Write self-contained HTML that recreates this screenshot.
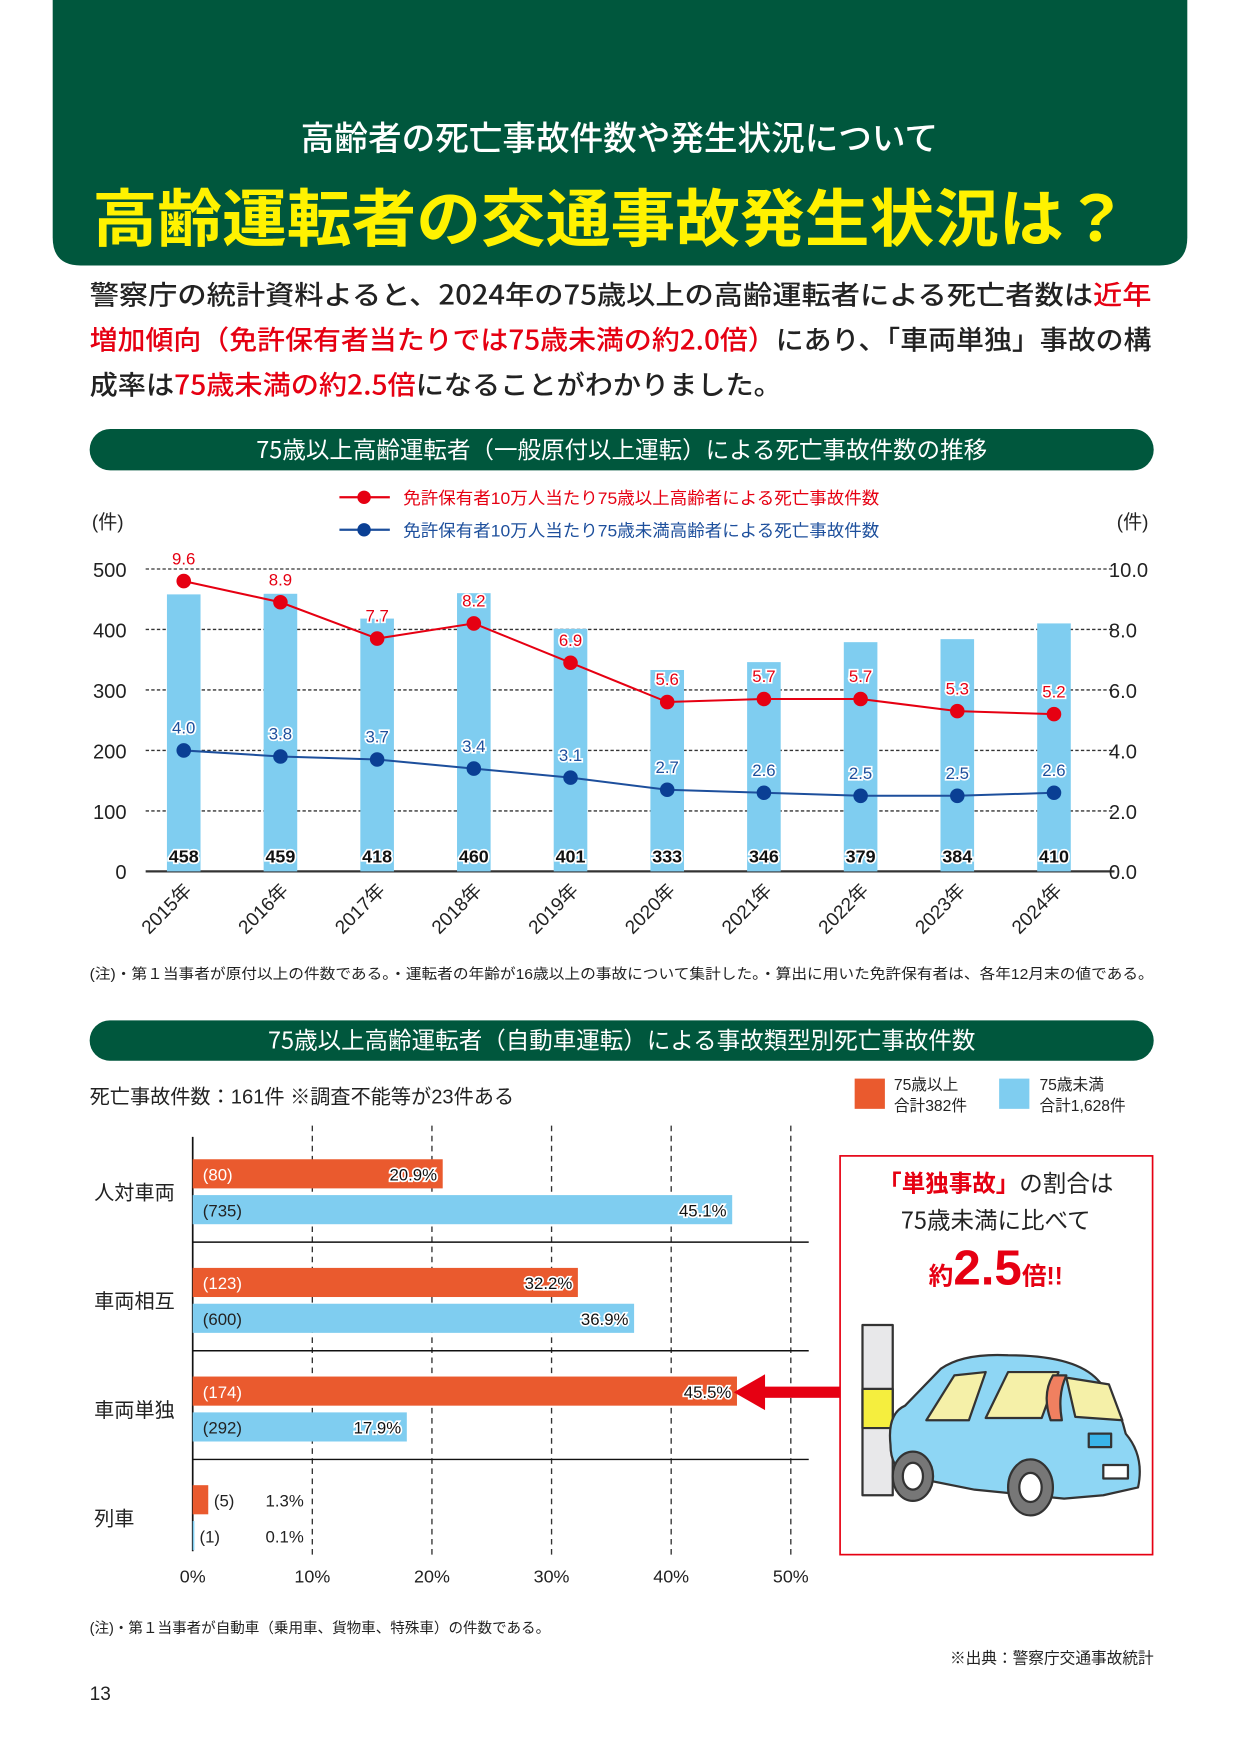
<!DOCTYPE html>
<html><head><meta charset="utf-8"><style>
html,body{margin:0;padding:0;background:#fff;}
svg{display:block;font-family:"Liberation Sans","Noto Sans CJK JP",sans-serif;}
</style></head><body>
<svg id="page" width="1240" height="1754" viewBox="0 0 1107 1566" xmlns="http://www.w3.org/2000/svg">
<path d="M47 0H1060V212Q1060 237 1035 237H72Q47 237 47 212Z" fill="#00573d"/>
<text x="553" y="134" text-anchor="middle" fill="#fff" font-size="30" font-weight="500" font-family="Noto Sans CJK JP, sans-serif">高齢者の死亡事故件数や発生状況について</text>
<text x="545" y="215" text-anchor="middle" fill="#fff200" font-size="56" font-weight="bold" font-family="Noto Sans CJK JP, sans-serif" textLength="925" lengthAdjust="spacingAndGlyphs">高齢運転者の交通事故発生状況は？</text>
<g font-size="24" font-weight="500" fill="#222" font-family="Noto Sans CJK JP, sans-serif">
<text x="80" y="272" textLength="948" lengthAdjust="spacingAndGlyphs">警察庁の統計資料よると、2024年の75歳以上の高齢運転者による死亡者数は<tspan fill="#e60012">近年</tspan></text>
<text x="80" y="312" textLength="948" lengthAdjust="spacingAndGlyphs"><tspan fill="#e60012">増加傾向（免許保有者当たりでは75歳未満の約2.0倍）</tspan>にあり、「車両単独」事故の構</text>
<text x="80" y="352" textLength="618" lengthAdjust="spacingAndGlyphs">成率は<tspan fill="#e60012">75歳未満の約2.5倍</tspan>になることがわかりました。</text>
</g>
<rect x="80" y="383" width="950" height="37" rx="18.5" fill="#00573d"/>
<text x="555" y="409" text-anchor="middle" fill="#fff" font-size="21" font-family="Noto Sans CJK JP, sans-serif">75歳以上高齢運転者（一般原付以上運転）による死亡事故件数の推移</text>
<g>
<line x1="303" y1="444" x2="348" y2="444" stroke="#e60012" stroke-width="2"/><circle cx="325" cy="444" r="6" fill="#e60012"/>
<text x="360" y="450" font-size="15" fill="#e60012" textLength="425" lengthAdjust="spacingAndGlyphs">免許保有者10万人当たり75歳以上高齢者による死亡事故件数</text></g>
<g>
<line x1="303" y1="473" x2="348" y2="473" stroke="#1d4f9c" stroke-width="2"/><circle cx="325" cy="473" r="6" fill="#0a3f94"/>
<text x="360" y="479" font-size="15" fill="#1d4f9c" textLength="425" lengthAdjust="spacingAndGlyphs">免許保有者10万人当たり75歳未満高齢者による死亡事故件数</text></g>
<text x="82" y="472" font-size="17" fill="#222">(件)</text>
<text x="997" y="472" font-size="17" fill="#222">(件)</text>
<g id="chart1"></g>
<text x="80" y="874" font-size="13" fill="#222" textLength="950" lengthAdjust="spacingAndGlyphs">(注)・第１当事者が原付以上の件数である。・運転者の年齢が16歳以上の事故について集計した。・算出に用いた免許保有者は、各年12月末の値である。</text>
<rect x="80" y="911" width="950" height="36" rx="18" fill="#00573d"/>
<text x="555" y="936" text-anchor="middle" fill="#fff" font-size="21" font-family="Noto Sans CJK JP, sans-serif">75歳以上高齢運転者（自動車運転）による事故類型別死亡事故件数</text>
<text x="80" y="985" font-size="18" fill="#222">死亡事故件数：161件 ※調査不能等が23件ある</text>
<g><rect x="763" y="963" width="27" height="27" fill="#ea5a2e"/><text x="798" y="973" font-size="14" fill="#222">75歳以上</text><text x="798" y="992" font-size="14" fill="#222">合計382件</text></g>
<g><rect x="892" y="963" width="27" height="27" fill="#7fcdf0"/><text x="928" y="973" font-size="14" fill="#222">75歳未満</text><text x="928" y="992" font-size="14" fill="#222">合計1,628件</text></g>
<g id="chart2"></g>
<g><rect x="680" y="1238" width="70" height="10" fill="#e60012"/><polygon points="655,1243 683,1227 683,1259" fill="#e60012"/></g>
<g>
<rect x="750" y="1032" width="279" height="356" fill="#fff" stroke="#e60012" stroke-width="1.5"/>
<text x="889" y="1064" text-anchor="middle" font-size="21" fill="#222" font-family="Noto Sans CJK JP, sans-serif"><tspan fill="#e60012" font-weight="bold">「単独事故」</tspan>の割合は</text>
<text x="889" y="1097" text-anchor="middle" font-size="21" fill="#222" font-family="Noto Sans CJK JP, sans-serif">75歳未満に比べて</text>
<text x="889" y="1147" text-anchor="middle" fill="#e60012" font-weight="bold"><tspan font-size="22">約</tspan><tspan font-size="44">2.5</tspan><tspan font-size="22">倍!!</tspan></text>
<g stroke="#333" stroke-width="2" stroke-linejoin="round">
<rect x="770" y="1183" width="27" height="152" fill="#e8e8ea"/>
<rect x="770" y="1240" width="27" height="35" fill="#f5ee3e"/>
<path d="M795 1290 Q792 1262 808 1255 L840 1222 Q860 1208 900 1210 Q960 1210 980 1232 Q998 1250 1005 1280 Q1022 1300 1016 1328 L985 1335 L950 1338 L870 1330 L810 1318 Q795 1310 795 1290 Z" fill="#8ed6f4"/>
<path d="M827 1268 L852 1228 L880 1225 L865 1268 Z M880 1266 L900 1225 L945 1225 L930 1266 Z" fill="#f5f0a8"/>
<path d="M952 1230 L990 1236 L1002 1268 L960 1265 Z" fill="#f5f0a8"/>
<path d="M940 1228 Q930 1245 938 1268 L948 1268 Q944 1245 952 1228 Z" fill="#f08060"/>
<ellipse cx="815" cy="1318" rx="18" ry="22" fill="#777"/><ellipse cx="815" cy="1318" rx="9" ry="12" fill="#fff"/>
<ellipse cx="920" cy="1328" rx="20" ry="25" fill="#777"/><ellipse cx="920" cy="1328" rx="10" ry="13" fill="#fff"/>
<rect x="985" y="1308" width="22" height="12" fill="#fff"/>
<rect x="972" y="1280" width="20" height="12" fill="#3ab4e8"/>
</g>
</g>
<text x="80" y="1458" font-size="13" fill="#222">(注)・第１当事者が自動車（乗用車、貨物車、特殊車）の件数である。</text>
<text x="1030" y="1485" text-anchor="end" font-size="14" fill="#222">※出典：警察庁交通事故統計</text>
<text x="80" y="1518" font-size="17" fill="#222">13</text>
</svg>
<script>
const years = ['2015年','2016年','2017年','2018年','2019年','2020年','2021年','2022年','2023年','2024年'];
const counts = [458,459,418,460,401,333,346,379,384,410];
const rateOver75 = [9.6,8.9,7.7,8.2,6.9,5.6,5.7,5.7,5.3,5.2];
const rateUnder75 = [4.0,3.8,3.7,3.4,3.1,2.7,2.6,2.5,2.5,2.6];
const leftTicks = [0,100,200,300,400,500];
const rightTicks = ['0.0','2.0','4.0','6.0','8.0','10.0'];

const categories = ['人対車両','車両相互','車両単独','列車'];
const countOver75 = [80,123,174,5];
const pctOver75 = [20.9,32.2,45.5,1.3];
const countUnder75 = [735,600,292,1];
const pctUnder75 = [45.1,36.9,17.9,0.1];
const pctTicks = [0,10,20,30,40,50];

const NS='http://www.w3.org/2000/svg';
function mk(tag, attrs, parent, txt){const e=document.createElementNS(NS,tag);for(const k in attrs)e.setAttribute(k,attrs[k]);if(txt!==undefined)e.textContent=txt;parent.appendChild(e);return e;}

const c1=document.getElementById('chart1');
const yL=v=>778-v*0.54, yR=v=>778-v*27, xC=i=>164+i*86.33;
leftTicks.forEach((t,i)=>{
  const g=mk('line',{x1:130,x2:995,y1:yL(t),y2:yL(t),stroke:'#333','stroke-width':t===0?2:1.2,'stroke-dasharray':t===0?'':'3,2'},c1);
  
  
  const tl=mk('text',{x:113,y:yL(t)+7,'text-anchor':'end','font-size':18,fill:'#222'},c1,String(t));
  
  
  const tr=mk('text',{x:990,y:yL(t)+7,'font-size':18,fill:'#222'},c1,rightTicks[i]);
  
  
});
counts.forEach((v,i)=>{
  const b=mk('rect',{x:xC(i)-15,y:yL(v),width:30,height:778-yL(v),fill:'#7fcdf0'},c1);
  
  
  const t=mk('text',{x:xC(i),y:770,'text-anchor':'middle','font-size':16,'font-weight':'bold',fill:'#111',stroke:'#fff','stroke-width':3,'paint-order':'stroke'},c1,String(v));
  
  
  const yl=mk('text',{x:0,y:0,'text-anchor':'end','font-size':17,fill:'#222',transform:`translate(${xC(i)+8},${796}) rotate(-45)`},c1,years[i]);
  
  
});
function series(vals,color,dot,name){
  const p=mk('polyline',{points:vals.map((v,i)=>xC(i)+','+yR(v)).join(' '),fill:'none',stroke:color,'stroke-width':1.8},c1);
  
  
  vals.forEach((v,i)=>{
    const c=mk('circle',{cx:xC(i),cy:yR(v),r:6.5,fill:dot},c1);
    
    
    const t=mk('text',{x:xC(i),y:yR(v)-15,'text-anchor':'middle','font-size':15,fill:color,stroke:'#fff','stroke-width':3,'paint-order':'stroke'},c1,v.toFixed(1));
    
    
  });
}
series(rateOver75,'#e60012','#e60012','over75');
series(rateUnder75,'#1d4f9c','#0a3f94','under75');

const c2=document.getElementById('chart2');
const xP=p=>172+p*10.68;
pctTicks.forEach(t=>{
  if(t>0){const l=mk('line',{x1:xP(t),x2:xP(t),y1:1005,y2:1390,stroke:'#333','stroke-width':1.2,'stroke-dasharray':'5,4'},c2);
  
  }
  const tl=mk('text',{x:xP(t),y:1413,'text-anchor':'middle','font-size':16,fill:'#222'},c2,t+'%');
  
  
});
const ax=mk('line',{x1:172,x2:172,y1:1015,y2:1385,stroke:'#111','stroke-width':1.5},c2);


categories.forEach((cat,i)=>{
  const top=1035+i*97;
  if(i>0){const s=mk('line',{x1:172,x2:722,y1:top-23,y2:top-23,stroke:'#111','stroke-width':1.3},c2);
  
  }
  const cl=mk('text',{x:84,y:top+36,'font-size':18,fill:'#222'},c2,cat);
  
  
  [[countOver75,pctOver75,'#ea5a2e','#fff',0],[countUnder75,pctUnder75,'#7fcdf0','#222',32]].forEach(([cs,ps,col,tc,dy],k)=>{
    const y=top+dy;
    const b=mk('rect',{x:172,y:y,width:Math.max(xP(ps[i])-172,1.5),height:26,fill:col},c2);
    
    
    const small=ps[i]<5;
    const ct=mk('text',{x:small?Math.max(xP(ps[i]),173)+5:181,y:y+19,'font-size':15,fill:small?'#222':tc},c2,'('+cs[i]+')');
    
    
    const pt=mk('text',small?{x:237,y:y+19,'font-size':15,fill:'#222'}:{x:xP(ps[i])-5,y:y+19,'text-anchor':'end','font-size':15,fill:'#111',stroke:'#fff','stroke-width':3,'paint-order':'stroke'},c2,ps[i].toFixed(1)+'%');
    
    
  });
});
</script>
</body></html>
